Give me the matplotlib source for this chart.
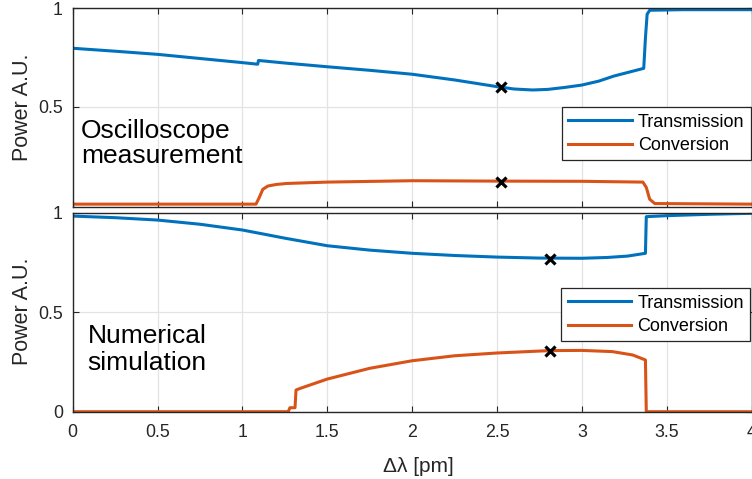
import matplotlib
matplotlib.use("Agg")
import matplotlib.pyplot as plt

plt.rcParams['font.family'] = ['Liberation Sans', 'DejaVu Sans']

# ---------------- data ----------------
# Top panel: oscilloscope measurement
top_x_T = [0, 0.25, 0.5, 0.75, 1.0, 1.09, 1.095, 1.25, 1.5, 1.75, 2.0, 2.25, 2.5, 2.6,
           2.71, 2.8, 2.9, 3.0, 3.1, 3.19, 3.28, 3.365, 3.375, 3.385, 3.40, 3.6, 3.8, 4.0]
top_T = [0.797, 0.782, 0.766, 0.745, 0.724, 0.716, 0.735, 0.722, 0.703, 0.685, 0.665, 0.636,
         0.602, 0.590, 0.585, 0.588, 0.598, 0.610, 0.630, 0.656, 0.676, 0.695, 0.85, 0.97,
         0.99, 0.993, 0.993, 0.993]
top_x_C = [0, 1.08, 1.10, 1.12, 1.15, 1.2, 1.26, 1.5, 2.0, 2.5, 3.0, 3.36, 3.38, 3.40, 3.43, 4.0]
top_C = [0.005, 0.005, 0.04, 0.08, 0.097, 0.105, 0.11, 0.117, 0.124, 0.122, 0.121, 0.117,
         0.09, 0.03, 0.008, 0.005]
top_mark_x = [2.525, 2.525]
top_mark_y = [0.602, 0.120]

# Bottom panel: numerical simulation
bot_x_T = [0, 0.25, 0.5, 0.75, 1.0, 1.25, 1.5, 1.75, 2.0, 2.25, 2.5, 2.75, 3.0, 3.15, 3.27,
           3.375, 3.38, 3.5, 3.75, 4.0]
bot_T = [0.983, 0.975, 0.963, 0.942, 0.913, 0.872, 0.834, 0.812, 0.796, 0.785, 0.777, 0.772,
         0.771, 0.775, 0.782, 0.796, 0.980, 0.985, 0.992, 0.997]
bot_x_C = [0, 1.27, 1.28, 1.31, 1.316, 1.34, 1.5, 1.75, 2.0, 2.25, 2.5, 2.81, 3.0, 3.18,
           3.30, 3.375, 3.38, 4.0]
bot_C = [0, 0, 0.02, 0.02, 0.109, 0.117, 0.164, 0.218, 0.256, 0.281, 0.295, 0.307, 0.308,
         0.302, 0.285, 0.26, 0, 0]
bot_mark_x = [2.812, 2.812]
bot_mark_y = [0.769, 0.306]

x_ticks = [0, 0.5, 1, 1.5, 2, 2.5, 3, 3.5, 4]
x_tick_labels = ['0', '0.5', '1', '1.5', '2', '2.5', '3', '3.5', '4']
series_names = ['Transmission', 'Conversion']
panel_texts = [['Oscilloscope', 'measurement'], ['Numerical', 'simulation']]

# ---------------- style ----------------
BLUE = '#0072BD'
ORANGE = '#D95319'
AXC = '#262626'
W, H = 752, 479

fig = plt.figure(figsize=(7.52, 4.79), dpi=100)
L = 72.7 / W
AW = 678.8 / W
ax1 = fig.add_axes([L, 1 - 206.7 / H, AW, 198.4 / H])
ax2 = fig.add_axes([L, 1 - 411.7 / H, AW, 199.0 / H])


def style(ax):
    for s in ax.spines.values():
        s.set_color(AXC)
        s.set_linewidth(1.0)
    ax.tick_params(direction='in', top=True, right=True, length=4, width=0.8,
                   colors=AXC, labelcolor='#262626', labelsize=12.8)
    ax.tick_params(axis='x', pad=9)
    ax.tick_params(axis='y', pad=7)
    ax.grid(True, color='#e3e3e3', linewidth=0.9)
    ax.set_axisbelow(True)
    ax.set_xlim(0, 4)
    ax.set_xticks(x_ticks)


style(ax1)
style(ax2)

ax1.plot(top_x_T, top_T, color=BLUE, lw=2.2, label=series_names[0])
ax1.plot(top_x_C, top_C, color=ORANGE, lw=2.2, label=series_names[1])
ax1.plot(top_mark_x, top_mark_y, linestyle='none', marker='x', color='black',
         markersize=6.5, mew=2.3)
ax1.set_ylim(-0.008, 1)
ax1.set_yticks([0.5, 1])
ax1.set_yticklabels(['0.5', '1'])
ax1.set_xticklabels([])

ax2.plot(bot_x_T, bot_T, color=BLUE, lw=2.2, label=series_names[0])
ax2.plot(bot_x_C, bot_C, color=ORANGE, lw=2.2, label=series_names[1])
ax2.plot(bot_mark_x, bot_mark_y, linestyle='none', marker='x', color='black',
         markersize=6.5, mew=2.3)
ax2.set_ylim(0, 1)
ax2.set_yticks([0, 0.5, 1])
ax2.set_yticklabels(['0', '0.5', '1'])
ax2.set_xticklabels(x_tick_labels)

for ax, anchor in ((ax1, (0.9988, 0.501)), (ax2, (0.9978, 0.620))):
    leg = ax.legend(loc='upper right', bbox_to_anchor=anchor, fontsize=13,
                    frameon=True, fancybox=False, handlelength=3.5, handletextpad=0.35,
                    labelspacing=0.35, borderpad=0.35, borderaxespad=0.0)
    fr = leg.get_frame()
    fr.set_edgecolor(AXC)
    fr.set_linewidth(0.9)
    fr.set_alpha(1)

# panel annotations
ax1.text(0.012, 0.348, panel_texts[0][0], transform=ax1.transAxes, fontsize=19,
         va='baseline', ha='left', color='black')
ax1.text(0.012, 0.219, panel_texts[0][1], transform=ax1.transAxes, fontsize=19,
         va='baseline', ha='left', color='black')
ax2.text(0.022, 0.347, panel_texts[1][0], transform=ax2.transAxes, fontsize=19,
         va='baseline', ha='left', color='black')
ax2.text(0.022, 0.2095, panel_texts[1][1], transform=ax2.transAxes, fontsize=19,
         va='baseline', ha='left', color='black')

# axis labels
fig.text(23 / W, 1 - 107 / H, 'Power A.U.', rotation=90, ha='center', va='center',
         fontsize=15.5, color='#262626')
fig.text(23 / W, 1 - 311.7 / H, 'Power A.U.', rotation=90, ha='center', va='center',
         fontsize=15.5, color='#262626')
fig.text(418 / W, 1 - 472 / H, 'Δλ [pm]', ha='center', va='baseline', fontsize=15,
         color='#262626')

fig.savefig('out.png', dpi=100)
